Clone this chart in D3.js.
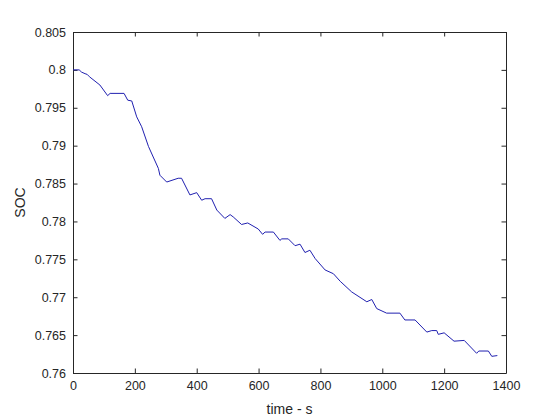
<!DOCTYPE html>
<html>
<head>
<meta charset="utf-8">
<style>
    body { margin: 0; background: #fff; overflow: hidden; }
    text { font-family: "Liberation Sans", Arial, Helvetica, sans-serif; fill: #262626; }
</style>
<script src="https://cdn.jsdelivr.net/npm/d3@7"></script>
</head>
<body>
<div id="container"></div>
<script>
    // SOC trace (time in s, SOC as fraction)
    const time = [0, 20, 28, 39, 46, 53, 87, 112, 120, 165, 177, 190, 206, 222, 244, 276, 281, 303,
        340, 351, 378, 400, 416, 427, 448, 465, 491, 508, 518, 545, 565, 599, 613, 621, 648, 669,
        675, 696, 718, 734, 750, 766, 783, 815, 842, 864, 901, 950, 966, 982, 1014, 1057, 1073,
        1106, 1144, 1160, 1176, 1181, 1200, 1232, 1265, 1305, 1312, 1343, 1354, 1372];
    const soc = [0.8000, 0.8000, 0.7997, 0.7995, 0.7994, 0.7991, 0.7980, 0.7966, 0.7969, 0.7969,
        0.7960, 0.7959, 0.7938, 0.7925, 0.7899, 0.7870, 0.7861, 0.7852, 0.7857, 0.7857, 0.7835,
        0.7838, 0.7828, 0.7830, 0.7830, 0.7815, 0.7804, 0.7809, 0.7806, 0.7796, 0.7798, 0.7790,
        0.7783, 0.7786, 0.7786, 0.7775, 0.7777, 0.7777, 0.7768, 0.7770, 0.7759, 0.7762, 0.7751,
        0.7736, 0.7731, 0.7721, 0.7707, 0.7694, 0.7697, 0.7685, 0.7679, 0.7679, 0.7670, 0.7670,
        0.7654, 0.7656, 0.7656, 0.7651, 0.7653, 0.7642, 0.7643, 0.7626, 0.7629, 0.7629, 0.7622,
        0.7623];

    const xTicks = [0, 200, 400, 600, 800, 1000, 1200, 1400];
    const yTicks = [0.76, 0.765, 0.77, 0.775, 0.78, 0.785, 0.79, 0.795, 0.8, 0.805];

    const width = 560, height = 420;
    const margin = {top: 32, right: 54, bottom: 47, left: 73};

    const svg = d3.select("#container").append("svg")
        .attr("width", width)
        .attr("height", height);

    const x = d3.scaleLinear().domain([0, 1400]).range([margin.left, width - margin.right]);
    const y = d3.scaleLinear().domain([0.76, 0.805]).range([height - margin.bottom, margin.top]);

    const fmt = d => String(+d.toFixed(3));
    const tickLen = 4.5;

    // bottom + top axes (ticks point inward)
    svg.append("g")
        .attr("transform", `translate(0,${y(0.76)})`)
        .call(d3.axisBottom(x).tickValues(xTicks).tickFormat(fmt).tickSizeInner(-tickLen).tickSizeOuter(0).tickPadding(8));
    svg.append("g")
        .attr("transform", `translate(0,${y(0.805)})`)
        .call(d3.axisTop(x).tickValues(xTicks).tickFormat("").tickSizeInner(-tickLen).tickSizeOuter(0));

    // left + right axes
    svg.append("g")
        .attr("transform", `translate(${x(0)},0)`)
        .call(d3.axisLeft(y).tickValues(yTicks).tickFormat(fmt).tickSizeInner(-tickLen).tickSizeOuter(0).tickPadding(7));
    svg.append("g")
        .attr("transform", `translate(${x(1400)},0)`)
        .call(d3.axisRight(y).tickValues(yTicks).tickFormat("").tickSizeInner(-tickLen).tickSizeOuter(0));

    svg.selectAll(".domain, .tick line").attr("stroke", "#262626").attr("stroke-width", 1);
    svg.selectAll(".tick text").attr("font-size", 12.5).attr("fill", "#262626")
        .attr("font-family", '"Liberation Sans", Arial, sans-serif');

    // the SOC line
    const line = d3.line().x((d, i) => x(time[i])).y(d => y(d));
    svg.append("path")
        .datum(soc)
        .attr("d", line)
        .attr("fill", "none")
        .attr("stroke", "#2020b0")
        .attr("stroke-width", 1);

    // axis labels
    svg.append("text")
        .attr("x", (x(0) + x(1400)) / 2)
        .attr("y", 414)
        .attr("text-anchor", "middle")
        .attr("font-size", 14)
        .text("time - s");

    svg.append("text")
        .attr("transform", `translate(25,${(y(0.76) + y(0.805)) / 2}) rotate(-90)`)
        .attr("text-anchor", "middle")
        .attr("font-size", 14)
        .text("SOC");
</script>
</body>
</html>
